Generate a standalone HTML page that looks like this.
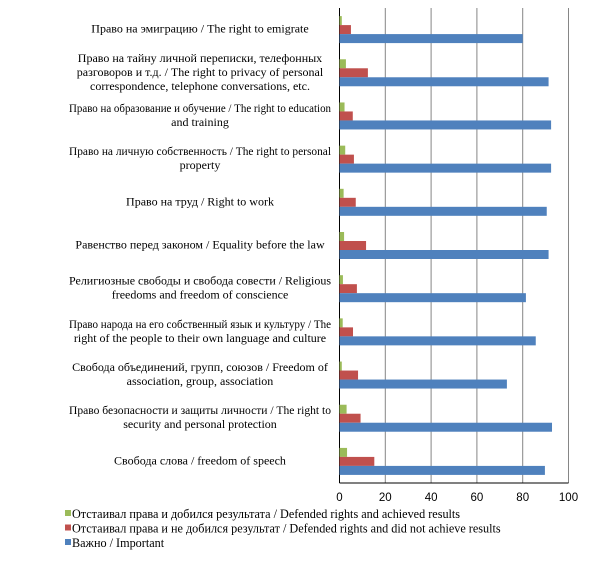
<!DOCTYPE html>
<html><head><meta charset="utf-8"><style>
body{margin:0;background:#fff;}
svg text{font-family:"Liberation Serif","DejaVu Serif",serif;}
</style></head><body>
<svg id="chart" width="611" height="556" xmlns="http://www.w3.org/2000/svg"></svg>
<script>
const categories = [
 ["Право на эмиграцию / The right to emigrate"],
 ["Право на тайну личной переписки, телефонных","разговоров и т.д. / The right to privacy of personal","correspondence, telephone conversations, etc."],
 ["Право на образование и обучение / The right to education","and training"],
 ["Право на личную собственность / The right to personal","property"],
 ["Право на труд / Right to work"],
 ["Равенство перед законом / Equality before the law"],
 ["Религиозные свободы и свобода совести / Religious","freedoms and freedom of conscience"],
 ["Право народа на его собственный язык и культуру / The","right of the people to their own language and culture"],
 ["Свобода объединений, групп, союзов / Freedom of","association, group, association"],
 ["Право безопасности и защиты личности / The right to","security and personal protection"],
 ["Свобода слова / freedom of speech"]
];
const achieved = [1, 2.8, 2.2, 2.5, 1.8, 2, 1.5, 1.4, 1, 3.1, 3.3];
const notAchieved = [5, 12.4, 5.8, 6.3, 7.1, 11.6, 7.6, 5.9, 8.1, 9.2, 15.2];
const important = [80, 91.3, 92.4, 92.4, 90.5, 91.3, 81.4, 85.7, 73.1, 92.8, 89.7];
const ticks = [0, 20, 40, 60, 80, 100];
const seriesNames = ["Отстаивал права и добился результата / Defended rights and achieved results","Отстаивал права и не добился результат / Defended rights and did not achieve results","Важно / Important"];
const colors = ["#9bbb59","#c0504d","#4f81bd"];

const svg = document.getElementById('chart');
const NS = "http://www.w3.org/2000/svg";
const x0 = 339.5, x1 = 568.5, yTop = 8, yBot = 483;
const xs = v => x0 + (v - 0) / 100 * (x1 - x0);
const band = (yBot - yTop) / categories.length;
function mk(tag, attrs){const e=document.createElementNS(NS,tag);for(const k in attrs)e.setAttribute(k,attrs[k]);svg.appendChild(e);return e;}

ticks.forEach((t,i)=>{
  if(t>0){const g=mk('line',{x1:xs(t),x2:xs(t),y1:yTop,y2:yBot,stroke:'#868686','stroke-width':1});
  
  }
  const tx=mk('text',{x:xs(t),y:501,'text-anchor':'middle','font-size':11.5});
  tx.style.fontFamily='"Liberation Sans",sans-serif';
  tx.textContent=t;
  
  
});
const ax=mk('line',{x1:x0,x2:x0,y1:yTop,y2:yBot,stroke:'#000','stroke-width':1});


const bx=mk('line',{x1:x0,x2:x1,y1:yBot,y2:yBot,stroke:'#000','stroke-width':1});



const bh = 9;
categories.forEach((lines,i)=>{
  const c = yTop + band*(i+0.5);
  const start = c - 1.5*bh;
  [achieved,notAchieved,important].forEach((arr,s)=>{
    const r=mk('rect',{x:x0,y:start+s*bh,width:xs(arr[i])-x0,height:bh,fill:colors[s]});
    
    
  });
  const lh=14;
  const firstY = c - (lines.length-1)*lh/2 + 3;
  lines.forEach((ln,k)=>{
    const t=mk('text',{x:200,y:firstY+k*lh,'text-anchor':'middle','font-size':12});
    
    
    t.textContent=ln;
    const w=t.getComputedTextLength();
    if(w>262){t.setAttribute('textLength',262);t.setAttribute('lengthAdjust','spacingAndGlyphs');}
  });
});

seriesNames.forEach((n,s)=>{
  const y=515+s*14.5;
  const r=mk('rect',{x:65,y:y-5,width:6,height:6,fill:colors[s]});
  
  
  const t=mk('text',{x:72,y:y+3,'font-size':12.2});
  t.textContent=n;
  
  
});
</script>
</body></html>
